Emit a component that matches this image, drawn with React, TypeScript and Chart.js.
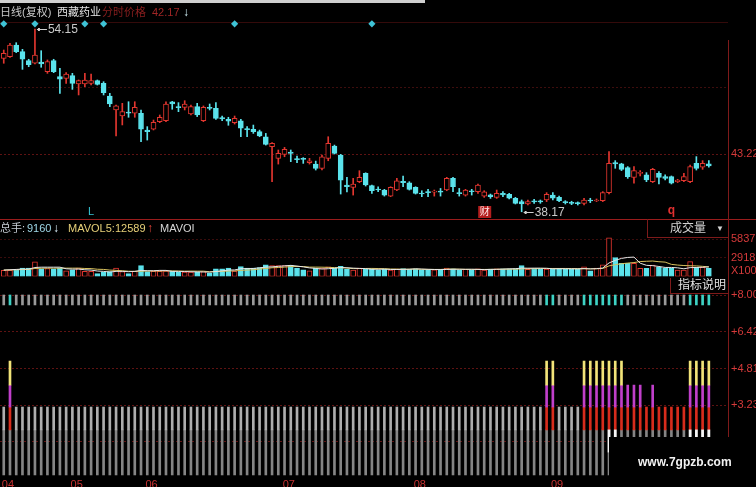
import { useEffect, useRef } from 'react';
import { Chart, registerables } from 'chart.js';

Chart.register(...registerables);

// ---------- daily candles (price, yuan) ----------
const opens = [
  51.58, 51.73, 52.75, 52.17, 51.38, 51.15, 51.26, 50.42, 51.38, 49.98,
  49.83, 50.07, 49.34, 49.34, 49.40, 49.63, 49.40, 48.29, 47.07, 46.54,
  46.89, 46.78, 46.78, 45.32, 45.38, 46.05, 46.13, 47.77, 47.36, 47.30,
  46.72, 47.36, 46.13, 47.30, 47.21, 46.40, 46.25, 45.96, 46.13, 45.44,
  45.37, 45.17, 44.73, 43.86, 42.84, 43.19, 43.39, 42.81, 42.81, 42.46,
  42.34, 41.96, 42.84, 43.92, 43.13, 40.51, 40.30, 40.80, 41.53, 40.45,
  40.16, 40.07, 39.54, 40.07, 40.83, 40.71, 40.30, 39.78, 39.92, 39.89,
  39.98, 40.07, 41.09, 39.84, 39.63, 40.01, 39.92, 39.54, 39.66, 39.43,
  39.78, 39.70, 39.35, 39.06, 38.85, 39.11, 39.11, 39.20, 39.64, 39.43,
  39.06, 39.00, 38.94, 38.91, 39.20, 39.11, 39.14, 39.84, 42.46, 42.35,
  42.03, 41.18, 41.53, 41.39, 40.80, 41.53, 41.24, 41.24, 40.80, 40.89,
  40.80, 42.41, 42.06, 42.35,
];
const closes = [
  52.02, 52.75, 52.17, 51.50, 51.03, 51.87, 51.09, 51.29, 50.42, 49.75,
  50.21, 49.40, 49.63, 49.69, 49.63, 49.31, 48.58, 47.59, 47.42, 46.92,
  46.78, 47.30, 45.38, 45.17, 45.99, 46.43, 47.59, 47.59, 47.27, 47.59,
  47.36, 46.63, 47.30, 47.21, 46.34, 46.28, 46.08, 46.34, 45.47, 45.35,
  45.17, 44.79, 44.06, 44.15, 43.27, 43.62, 43.27, 42.72, 42.75, 42.63,
  41.96, 42.98, 44.15, 43.27, 40.94, 40.36, 40.59, 41.18, 40.51, 40.01,
  40.07, 39.63, 40.30, 40.88, 40.71, 40.13, 39.78, 39.72, 39.84, 39.98,
  39.89, 41.09, 40.36, 39.75, 40.07, 39.92, 40.51, 39.92, 39.49, 39.78,
  39.64, 39.35, 38.91, 38.85, 39.06, 39.03, 39.03, 39.70, 39.35, 39.14,
  38.97, 38.91, 38.88, 39.20, 39.11, 39.20, 39.84, 42.41, 42.35, 41.88,
  41.24, 41.77, 41.59, 40.95, 41.88, 41.18, 41.09, 40.66, 40.95, 41.24,
  42.12, 41.97, 42.41, 42.17,
];
const highs = [
  52.31, 52.89, 52.95, 52.37, 51.50, 54.15, 52.25, 51.44, 51.50, 50.71,
  50.33, 50.27, 49.69, 50.27, 50.21, 49.69, 49.54, 48.52, 47.50, 47.65,
  47.79, 47.79, 47.07, 45.61, 46.19, 46.63, 47.79, 47.82, 47.71, 47.88,
  47.50, 47.65, 47.42, 47.59, 47.71, 46.54, 46.43, 46.54, 46.25, 45.61,
  45.75, 45.31, 45.02, 44.21, 43.57, 43.80, 43.57, 43.04, 42.90, 42.84,
  42.60, 43.13, 44.73, 44.00, 43.19, 41.18, 41.09, 41.76, 41.58, 40.51,
  40.36, 40.13, 40.36, 41.09, 41.29, 40.80, 40.36, 40.01, 40.13, 40.07,
  40.21, 41.18, 41.18, 40.21, 40.13, 40.13, 40.59, 40.01, 39.72, 40.07,
  39.93, 39.78, 39.43, 39.20, 39.20, 39.26, 39.20, 39.84, 39.84, 39.55,
  39.14, 39.09, 39.03, 39.35, 39.35, 39.29, 39.93, 43.43, 42.64, 42.41,
  42.12, 42.12, 41.77, 41.59, 41.97, 41.68, 41.39, 41.30, 41.01, 41.53,
  42.26, 42.99, 42.64, 42.64,
];
const lows = [
  51.15, 51.67, 52.08, 50.62, 50.85, 51.09, 50.80, 50.27, 50.33, 48.52,
  49.40, 48.87, 48.38, 49.11, 49.25, 49.25, 48.38, 47.36, 44.79, 45.76,
  46.43, 46.43, 44.30, 44.44, 45.32, 45.96, 46.05, 47.13, 46.92, 47.07,
  46.63, 46.49, 46.05, 47.07, 46.25, 46.13, 45.73, 45.84, 44.74, 44.74,
  45.02, 44.73, 44.00, 40.80, 42.34, 42.98, 42.55, 42.46, 42.40, 42.34,
  41.82, 41.82, 42.63, 43.22, 39.72, 39.90, 39.63, 40.71, 40.42, 39.78,
  39.92, 39.54, 39.49, 40.01, 40.36, 40.07, 39.72, 39.49, 39.49, 39.54,
  39.54, 40.01, 39.92, 39.54, 39.54, 39.63, 39.78, 39.43, 39.34, 39.34,
  39.49, 39.29, 38.85, 38.17, 38.76, 38.91, 38.91, 39.06, 39.20, 39.06,
  38.85, 38.79, 38.76, 38.76, 38.97, 39.06, 39.06, 39.73, 41.97, 41.77,
  41.09, 40.66, 41.30, 40.80, 40.72, 40.60, 40.95, 40.60, 40.72, 40.80,
  40.72, 41.82, 41.88, 42.06,
];

// ---------- volume (x100 shares) and its moving averages ----------
const volumes = [
  950, 950, 1050, 1300, 1300, 2300, 1200, 1250, 1200, 1300,
  900, 1050, 1300, 800, 800, 450, 700, 750, 1300, 750,
  450, 800, 1700, 750, 800, 800, 850, 800, 700, 700,
  700, 700, 750, 550, 1200, 1200, 1300, 850, 1550, 1300,
  1300, 1400, 1800, 1700, 1700, 1700, 1750, 1300, 1050, 900,
  1300, 1300, 1500, 1300, 1600, 1100, 1000, 1300, 1100, 1150,
  1050, 1100, 1000, 1150, 1250, 1150, 1200, 1050, 1000, 1050,
  1100, 1300, 1200, 1000, 1100, 1050, 1200, 1000, 1150, 1200,
  1200, 1200, 1250, 1700, 1100, 1250, 1200, 1150, 1250, 1200,
  1200, 1150, 1100, 1500, 900, 1300, 1800, 6040, 2930, 2050,
  2050, 2050, 1270, 1270, 1790, 1430, 1270, 1270, 1010, 1010,
  2310, 1430, 1430, 1270,
];
const mavol5 = [
  1000, 1050, 1100, 1150, 1150, 1400, 1450, 1450, 1450, 1450,
  1200, 1150, 1150, 1050, 1000, 850, 800, 700, 800, 800,
  750, 800, 950, 900, 900, 950, 950, 800, 800, 770,
  740, 720, 710, 680, 780, 880, 1000, 1020, 1220, 1220,
  1250, 1350, 1470, 1500, 1580, 1660, 1730, 1630, 1500, 1340,
  1260, 1170, 1210, 1280, 1400, 1360, 1300, 1260, 1220, 1130,
  1120, 1150, 1090, 1090, 1110, 1130, 1190, 1160, 1120, 1090,
  1080, 1100, 1130, 1130, 1120, 1130, 1110, 1070, 1100, 1120,
  1150, 1190, 1210, 1310, 1290, 1300, 1300, 1280, 1190, 1210,
  1200, 1190, 1180, 1230, 1180, 1220, 1320, 2110, 2510, 2820,
  2970, 3020, 2070, 1740, 1690, 1560, 1410, 1410, 1350, 1200,
  1380, 1410, 1440, 1490,
];
const mavol10 = [
  1000, 1020, 1050, 1080, 1100, 1250, 1280, 1300, 1300, 1300,
  1300, 1300, 1300, 1250, 1230, 1130, 1100, 1000, 950, 900,
  820, 800, 820, 850, 850, 850, 880, 870, 850, 830,
  840, 830, 830, 740, 780, 800, 850, 870, 950, 1000,
  1050, 1170, 1250, 1360, 1400, 1460, 1540, 1560, 1550, 1460,
  1460, 1450, 1420, 1390, 1370, 1310, 1230, 1240, 1250, 1260,
  1240, 1220, 1170, 1160, 1120, 1130, 1170, 1120, 1100, 1100,
  1100, 1150, 1160, 1140, 1110, 1100, 1100, 1100, 1110, 1120,
  1130, 1150, 1140, 1190, 1200, 1220, 1240, 1250, 1250, 1250,
  1250, 1240, 1230, 1210, 1200, 1210, 1250, 1650, 1840, 1990,
  2090, 2170, 2330, 2370, 2410, 2300, 2240, 1890, 1780, 1710,
  1670, 1650, 1580, 1500,
];

// ---------- axis ticks ----------
const monthStarts = [0, 11, 23, 45, 66, 88];
const monthLabels = ['04', '05', '06', '07', '08', '09'];
const priceTicks = [49.03, 43.22];
const priceTickLabels = ['', '43.22'];
const volumeTicks = [5837, 2918, 856];
const volumeTickLabels = ['5837', '2918', 'X100'];
const indicatorTicks = [8.0, 6.42, 4.81, 3.23, 1.64];

// ---------- event / signal marks ----------
const eventDiamondBars = [0, 5, 13, 16, 37, 59];
const diamondLevel = 54.6;
const signalBars = [1, 87, 88, 93, 94, 95, 96, 97, 98, 99, 110, 111, 112, 113];
const purpleOnlyBars = [100, 101, 102, 104];
const redOnlyBars = [103, 105, 106, 107, 108, 109];
const whiteBars = [97, 98, 110, 111, 112, 113];
const whiteLows = [1.2, 1.86, 1.86, 1.86, 1.86, 1.86];
const stripRange = [7.57, 8.0];
const greyLow = 0.21;
const redLow = 2.16;
const redHigh = 3.15;
const purpleHigh = 4.1;
const yellowHigh = 5.14;

// ---------- layout / styling ----------
const W = 756;
const AXIS_W = 28;
const X_MIN = -0.6;
const X_MAX = 116.07;
const PRICE_MIN = 37.626;
const PRICE_MAX = 54.758;
const VOL_MAX = 6306;
const IND_MIN = 0.1645;
const IND_MAX = 8.5628;

const FONT = "'Liberation Sans', 'Noto Sans CJK SC', sans-serif";
const RED = '#e2362f';
const CYAN = '#5be3ec';
const AXIS_RED = '#d63a3a';
const FRAME_RED = '#7e1a1a';
const GRID_RED = '#5e1212';

Chart.defaults.font.family = FONT;

const up = (i: number) => closes[i] >= opens[i];
const dirColors = opens.map((_, i) => (up(i) ? RED : CYAN));
const bodyFill = opens.map((_, i) => (up(i) ? '#000000' : CYAN));

function hline(ctx: any, x1: number, x2: number, y: number, color: string, dash: number[] = []) {
  ctx.save();
  ctx.strokeStyle = color;
  ctx.lineWidth = 1;
  ctx.setLineDash(dash);
  ctx.beginPath();
  ctx.moveTo(x1, y);
  ctx.lineTo(x2, y);
  ctx.stroke();
  ctx.restore();
}
function vline(ctx: any, x: number, y1: number, y2: number, color: string) {
  ctx.save();
  ctx.strokeStyle = color;
  ctx.lineWidth = 1;
  ctx.beginPath();
  ctx.moveTo(x, y1);
  ctx.lineTo(x, y2);
  ctx.stroke();
  ctx.restore();
}
function label(ctx: any, s: string, x: number, y: number, color: string, font = `11px ${FONT}`, align = 'left') {
  ctx.save();
  ctx.fillStyle = color;
  ctx.font = font;
  ctx.textAlign = align;
  ctx.textBaseline = 'middle';
  ctx.fillText(s, x, y);
  ctx.restore();
}

function baseOptions(padding: any) {
  return {
    responsive: false,
    maintainAspectRatio: false,
    animation: false,
    devicePixelRatio: 1,
    events: [],
    layout: { padding, autoPadding: false },
    plugins: { legend: { display: false }, tooltip: { enabled: false } },
  };
}

function hiddenX() {
  return {
    type: 'linear',
    min: X_MIN,
    max: X_MAX,
    offset: false,
    display: false,
    grid: { display: false, drawTicks: false },
  };
}

function rightAxis(min: number, max: number, values: number[], labels: string[], gridColor: (v: number) => string) {
  return {
    position: 'right',
    min,
    max,
    afterBuildTicks: (s: any) => {
      s.ticks = values.map((v) => ({ value: v }));
    },
    afterFit: (s: any) => {
      s.width = AXIS_W;
      s.paddingTop = 0;
      s.paddingBottom = 0;
    },
    grid: {
      drawTicks: false,
      lineWidth: 1,
      color: (c: any) => gridColor(c.tick ? c.tick.value : NaN),
    },
    border: { display: false, dash: [2, 2] },
    ticks: {
      autoSkip: false,
      padding: 3,
      color: AXIS_RED,
      font: { family: FONT, size: 11 },
      callback: (_v: any, i: number) => labels[i],
    },
  };
}

// ---------- overlays ----------
const mainOverlay = {
  id: 'mainOverlay',
  beforeDatasetsDraw(chart: any) {
    const { ctx, chartArea } = chart;
    hline(ctx, 0, chartArea.right, chartArea.top + 0.5, '#340a0a');
  },
  afterDraw(chart: any) {
    const { ctx, chartArea, scales } = chart;
    const xs = scales.x;
    const ys = scales.y;
    ctx.save();
    ctx.fillStyle = '#cfcfcf';
    ctx.fillRect(0, 0, 425, 3);
    ctx.restore();
    vline(ctx, chartArea.right + 0.5, 40, chart.height, FRAME_RED);

    // title row
    const last = closes[closes.length - 1].toFixed(2);
    label(ctx, '日线(复权)', 0, 12.5, '#c8c8c8');
    label(ctx, '西藏药业', 57, 12.5, '#e4e4e4');
    label(ctx, '分时价格', 102, 12.5, '#8a1f1f');
    label(ctx, last, 152, 12.5, '#a02626');
    label(ctx, '↓', 183, 12.5, '#cfeef6', `bold 12px ${FONT}`);

    // highest / lowest price markers
    const hiIdx = highs.indexOf(Math.max(...highs));
    const loIdx = lows.indexOf(Math.min(...lows));
    const pts = [
      [hiIdx, highs[hiIdx]],
      [loIdx, lows[loIdx]],
    ];
    pts.forEach(([i, v]) => {
      const px = xs.getPixelForValue(i);
      const py = Math.round(ys.getPixelForValue(v)) + 0.5;
      hline(ctx, px + 2, px + 12, py, '#d0d0d0');
      hline(ctx, px + 3, px + 5, py - 1, '#d0d0d0');
      hline(ctx, px + 3, px + 5, py + 1, '#d0d0d0');
      label(ctx, v.toFixed(2), px + 13, py, '#c8c8c8', `12px ${FONT}`);
    });

    // event letters along the bottom
    const yb = chartArea.bottom - 6;
    label(ctx, 'L', xs.getPixelForValue(14), yb, '#35c6d6', `11px ${FONT}`, 'center');
    const cx = xs.getPixelForValue(77);
    ctx.save();
    ctx.fillStyle = '#b41e1e';
    ctx.fillRect(cx - 6, yb - 6, 13, 12);
    ctx.restore();
    label(ctx, '财', cx + 0.5, yb, '#ffe6e6', `10px ${FONT}`, 'center');
    label(ctx, 'q', xs.getPixelForValue(107), yb - 1, '#e03030', `bold 12px ${FONT}`, 'center');
  },
};

const volumeOverlay = {
  id: 'volumeOverlay',
  afterDraw(chart: any) {
    const { ctx, chartArea } = chart;
    hline(ctx, 0, W, 0.5, '#9a1c1c');
    vline(ctx, chartArea.right + 0.5, 0, chart.height, FRAME_RED);
    const y = 10;
    label(ctx, '总手:', 0, y, '#c5ccd4');
    label(ctx, '9160', 27, y, '#9fd6e6');
    label(ctx, '↓', 53, y, '#dff4ff', `bold 12px ${FONT}`);
    label(ctx, 'MAVOL5:', 68, y, '#e6cf78');
    label(ctx, '12589', 115, y, '#e6cf78');
    label(ctx, '↑', 147, y, '#e8453a', `bold 12px ${FONT}`);
    label(ctx, 'MAVOI', 160, y, '#d6d6d6');
    // indicator selector box
    ctx.save();
    ctx.fillStyle = '#000';
    ctx.fillRect(648, 1, chartArea.right - 648, 17);
    ctx.restore();
    vline(ctx, 647.5, 0, 19, FRAME_RED);
    hline(ctx, 647, chartArea.right, 18.5, FRAME_RED);
    label(ctx, '成交量', 670, 10, '#d2d2d2', `12px ${FONT}`);
    label(ctx, '▼', 716, 10, '#d2d2d2', `8px ${FONT}`);
  },
};

const indicatorOverlay = {
  id: 'indicatorOverlay',
  afterDraw(chart: any) {
    const { ctx, chartArea } = chart;
    vline(ctx, chartArea.right + 0.5, 0, chart.height, FRAME_RED);
    ctx.save();
    ctx.fillStyle = '#000';
    ctx.fillRect(670, 0, chartArea.right - 670, 15);
    ctx.restore();
    vline(ctx, 670.5, 0, 15, FRAME_RED);
    hline(ctx, 670, chartArea.right, 15.5, FRAME_RED);
    label(ctx, '指标说明', 678, 8, '#e2e2e2', `12px ${FONT}`);
    // site stamp
    ctx.save();
    ctx.fillStyle = '#000';
    ctx.fillRect(609, 159, W - 609, chart.height - 159);
    ctx.restore();
    label(ctx, 'www.7gpzb.com', 638, 185, '#f2f2f2', `bold 12px ${FONT}`);
  },
};

// ---------- chart configs ----------
function mainConfig(): any {
  return {
    type: 'bar',
    data: {
      datasets: [
        {
          type: 'bar',
          data: highs.map((h, i) => ({ x: i, y: [lows[i], h] })),
          backgroundColor: dirColors,
          barThickness: 1,
          grouped: false,
          order: 3,
        },
        {
          type: 'bar',
          data: opens.map((o, i) => ({ x: i, y: [o, closes[i]] })),
          backgroundColor: bodyFill,
          borderColor: dirColors,
          borderWidth: 1,
          borderSkipped: false,
          barThickness: 5,
          minBarLength: 1,
          grouped: false,
          order: 2,
        },
        {
          type: 'line',
          data: eventDiamondBars.map((i) => ({ x: i, y: diamondLevel })),
          showLine: false,
          pointStyle: 'rectRot',
          pointRadius: 3.6,
          pointBackgroundColor: '#3fc3d6',
          pointBorderWidth: 0,
          clip: false,
          order: 1,
        },
      ],
    },
    options: {
      ...baseOptions({ top: 22, bottom: 1, left: 0, right: 0 }),
      scales: {
        x: hiddenX(),
        y: rightAxis(PRICE_MIN, PRICE_MAX, priceTicks, priceTickLabels, (v) => (v > 45 ? '#3e0d0d' : GRID_RED)),
      },
    },
    plugins: [mainOverlay],
  };
}

function volumeConfig(): any {
  return {
    type: 'bar',
    data: {
      datasets: [
        {
          type: 'bar',
          data: volumes.map((v, i) => ({ x: i, y: v })),
          backgroundColor: bodyFill,
          borderColor: dirColors,
          borderWidth: 1,
          borderSkipped: false,
          barThickness: 5,
          grouped: false,
          order: 3,
        },
        {
          type: 'line',
          data: mavol10.map((v, i) => ({ x: i, y: v })),
          borderColor: '#d9c25e',
          borderWidth: 1,
          pointRadius: 0,
          tension: 0,
          order: 2,
        },
        {
          type: 'line',
          data: mavol5.map((v, i) => ({ x: i, y: v })),
          borderColor: '#e6e6e6',
          borderWidth: 1,
          pointRadius: 0,
          tension: 0,
          order: 1,
        },
      ],
    },
    options: {
      ...baseOptions({ top: 17, bottom: 1.5, left: 0, right: 0 }),
      scales: {
        x: hiddenX(),
        y: rightAxis(0, VOL_MAX, volumeTicks, volumeTickLabels, (v) => (v > 1000 ? '#3a0c0c' : 'rgba(0,0,0,0)')),
      },
    },
    plugins: [volumeOverlay],
  };
}

function indicatorConfig(): any {
  const all = opens.map((_, i) => i);
  const purpleBars = [...signalBars, ...purpleOnlyBars];
  const redBars = [...purpleBars, ...redOnlyBars];
  const seg = (bars: number[], lo: number, hi: number) => bars.map((i) => ({ x: i, y: [lo, hi] }));
  const bar = (data: any[], color: string, order: number) => ({
    type: 'bar',
    data,
    backgroundColor: color,
    borderWidth: 0,
    barThickness: 2,
    grouped: false,
    order,
  });
  return {
    type: 'bar',
    data: {
      datasets: [
        bar(seg(all.filter((i) => !signalBars.includes(i)), stripRange[0], stripRange[1]), '#9a9a9a', 9),
        bar(seg(signalBars, stripRange[0], stripRange[1]), '#3ed2c4', 8),
        bar(seg(all, greyLow, redLow), '#858585', 7),
        bar(seg(all.filter((i) => !redBars.includes(i)), redLow, redHigh), '#aeaeae', 6),
        bar(seg(redBars, redLow, redHigh), '#d82c1c', 5),
        bar(seg(purpleBars, redHigh, purpleHigh), '#c03fca', 4),
        bar(seg(signalBars, purpleHigh, yellowHigh), '#f2e479', 3),
        bar(whiteBars.map((b, k) => ({ x: b, y: [whiteLows[k], redLow] })), '#f6f6f6', 2),
      ],
    },
    options: {
      ...baseOptions({ top: 4, bottom: 0, left: 0, right: 0 }),
      scales: {
        x: {
          type: 'linear',
          min: X_MIN,
          max: X_MAX,
          offset: false,
          afterBuildTicks: (s: any) => {
            s.ticks = monthStarts.map((i) => ({ value: i - 0.3 }));
          },
          afterFit: (s: any) => {
            s.height = 11;
            s.paddingLeft = 0;
            s.paddingRight = 0;
          },
          grid: { display: false, drawTicks: false },
          border: { display: false },
          ticks: {
            autoSkip: false,
            maxRotation: 0,
            align: 'start',
            padding: 2,
            color: '#c83232',
            font: { family: FONT, size: 11 },
            callback: (_v: any, i: number) => monthLabels[i],
          },
        },
        y: rightAxis(
          IND_MIN,
          IND_MAX,
          indicatorTicks,
          indicatorTicks.map((v) => '+' + v.toFixed(2)),
          () => GRID_RED,
        ),
      },
    },
    plugins: [indicatorOverlay],
  };
}

export default function App() {
  const mainRef = useRef<HTMLCanvasElement>(null);
  const volRef = useRef<HTMLCanvasElement>(null);
  const indRef = useRef<HTMLCanvasElement>(null);

  useEffect(() => {
    document.body.style.margin = '0';
    document.body.style.background = '#000';
    const charts = [
      new Chart(mainRef.current as HTMLCanvasElement, mainConfig()),
      new Chart(volRef.current as HTMLCanvasElement, volumeConfig()),
      new Chart(indRef.current as HTMLCanvasElement, indicatorConfig()),
    ];
    return () => charts.forEach((c) => c.destroy());
  }, []);

  const abs = (top: number, h: number): any => ({ position: 'absolute', left: 0, top, width: W, height: h });

  return (
    <div style={{ position: 'relative', width: W, height: 487, background: '#000', overflow: 'hidden' }}>
      <canvas ref={mainRef} width={W} height={219} style={abs(0, 219)} />
      <canvas ref={volRef} width={W} height={59} style={abs(219, 59)} />
      <canvas ref={indRef} width={W} height={209} style={abs(278, 209)} />
    </div>
  );
}
